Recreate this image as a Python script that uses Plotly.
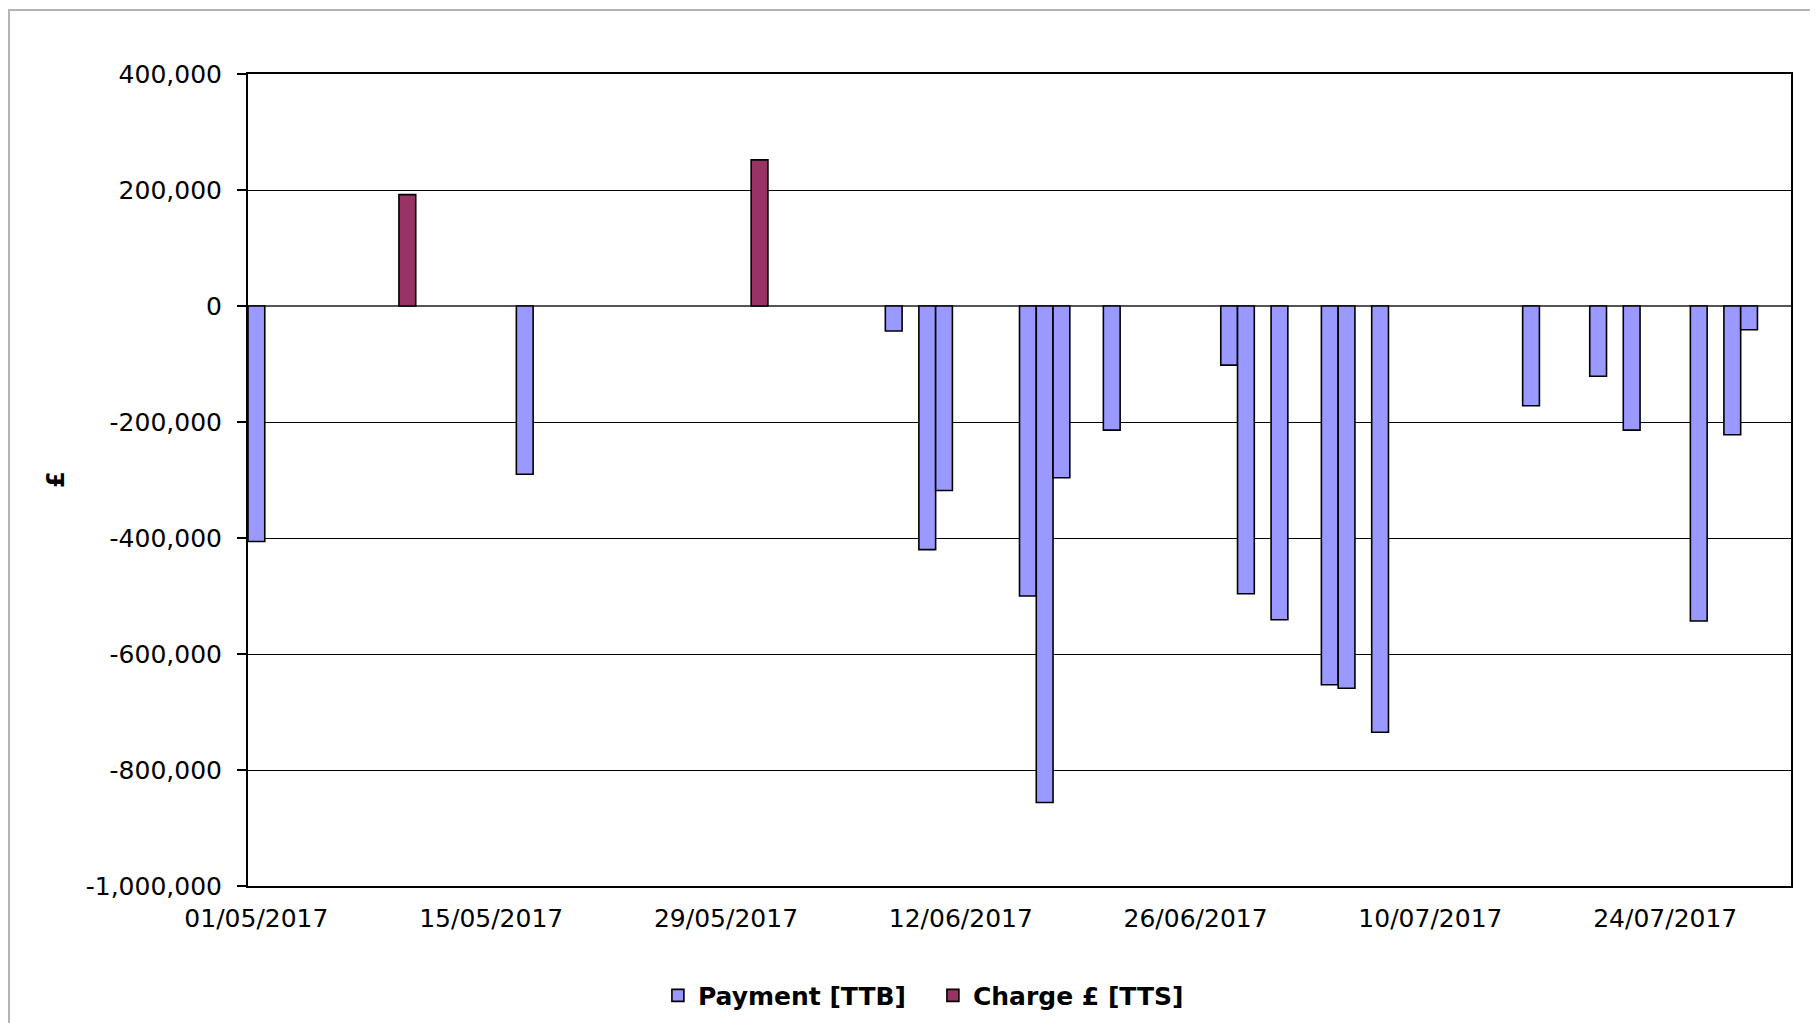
import plotly.graph_objects as go

# ---- data ----
payment_dates = ["2017-05-01", "2017-05-17", "2017-06-08", "2017-06-10", "2017-06-11",
                 "2017-06-16", "2017-06-17", "2017-06-18", "2017-06-21", "2017-06-28",
                 "2017-06-29", "2017-07-01", "2017-07-04", "2017-07-05", "2017-07-07",
                 "2017-07-16", "2017-07-20", "2017-07-22", "2017-07-26", "2017-07-28",
                 "2017-07-29"]
payment_values = [-406000, -290000, -43000, -420000, -318000,
                  -500000, -856000, -296000, -214000, -102000,
                  -496000, -541000, -653000, -659000, -735000,
                  -172000, -121000, -214000, -543000, -222000,
                  -41000]

charge_dates = ["2017-05-10", "2017-05-31"]
charge_values = [192000, 252000]

y_ticks = [400000, 200000, 0, -200000, -400000, -600000, -800000, -1000000]
y_tick_labels = [f"{v:,}" for v in y_ticks]

x_range = ["2017-04-30 12:00", "2017-07-31 12:00"]
y_min, y_max = -1000000, 400000
DAY_MS = 86400000

FONT = "DejaVu Sans, Liberation Sans, Arial, sans-serif"

fig = go.Figure()
fig.add_trace(go.Bar(
    x=payment_dates, y=payment_values, name="Payment [TTB]",
    width=DAY_MS, marker=dict(color="#9999FF", line=dict(color="black", width=1.6)),
))
fig.add_trace(go.Bar(
    x=charge_dates, y=charge_values, name="Charge £ [TTS]",
    width=DAY_MS, marker=dict(color="#993366", line=dict(color="black", width=1.6)),
))

fig.update_layout(
    width=1810, height=1015, autosize=False,
    margin=dict(l=240, r=27, t=66, b=137),
    paper_bgcolor="white", plot_bgcolor="white",
    barmode="overlay",
    font=dict(family=FONT, size=25, color="black"),
    xaxis=dict(
        type="date", range=x_range,
        tickmode="linear", tick0="2017-05-01", dtick=14 * DAY_MS,
        tickformat="%d/%m/%Y", ticks="", showgrid=False,
        showline=True, linecolor="black", linewidth=2, mirror=True,
        zeroline=False, tickfont=dict(size=25), ticklabelstandoff=9,
    ),
    xaxis2=dict(
        type="date", overlaying="x", matches="x", anchor="free",
        position=(0 - y_min) / (y_max - y_min), side="bottom",
        tickmode="linear", tick0="2017-04-30 12:00", dtick=14 * DAY_MS,
        ticks="outside", ticklen=7, tickwidth=2, tickcolor="black",
        showticklabels=False, showgrid=False, showline=False, zeroline=False,
    ),
    yaxis=dict(
        range=[y_min, y_max], tickmode="array",
        tickvals=y_ticks, ticktext=y_tick_labels,
        ticks="outside", ticklen=9, tickwidth=2, tickcolor="black",
        showgrid=True, gridcolor="black", gridwidth=1,
        zeroline=True, zerolinecolor="#555555", zerolinewidth=2,
        showline=True, linecolor="black", linewidth=2, mirror=True,
        ticklabelstandoff=10, tickfont=dict(size=25),
    ),
    legend=dict(
        orientation="h", xref="container", yref="container",
        x=0.511, xanchor="center", y=0.027, yanchor="middle",
        font=dict(family=FONT, size=25, color="black", weight="bold"),
        traceorder="normal", entrywidth=230, entrywidthmode="pixels",
    ),
    showlegend=True,
)

fig.add_annotation(
    text="<b>£</b>", xref="paper", yref="paper", x=-0.1244, y=0.5,
    xanchor="center", yanchor="middle",
    showarrow=False, textangle=-90, font=dict(family=FONT, size=24, color="black"),
)

fig.add_shape(
    type="rect", xref="paper", yref="paper",
    x0=-0.1549, y0=-0.3, x1=1.1, y1=1.0788,
    line=dict(color="#b4b4b4", width=2), fillcolor="rgba(0,0,0,0)", layer="below",
)

fig.write_html("out.html")
